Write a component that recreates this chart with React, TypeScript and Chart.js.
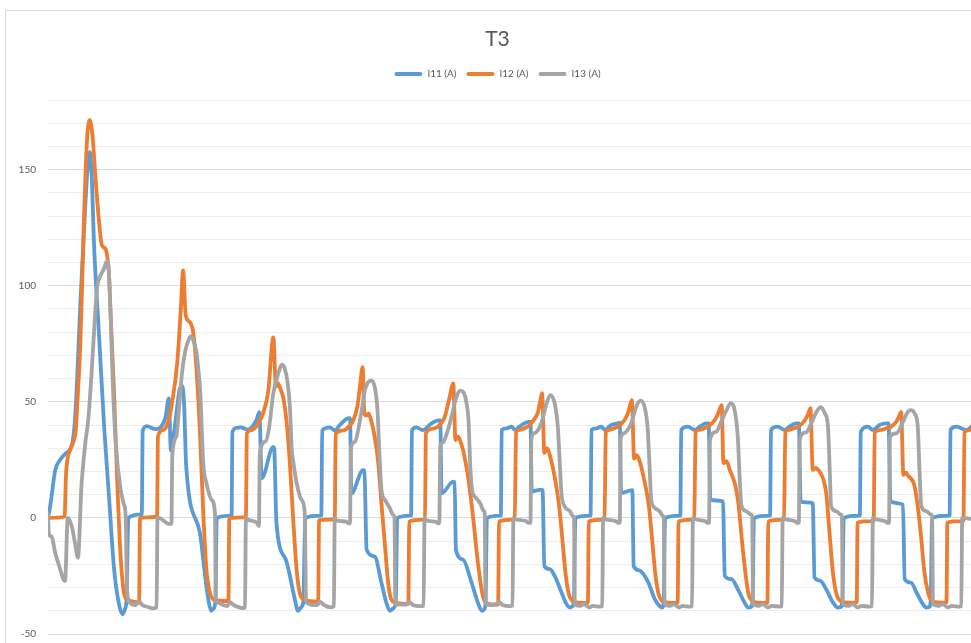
import React, { useEffect, useRef } from 'react';
import { Chart, registerables } from 'chart.js';

Chart.register(...registerables);

// Time (ms) and current (A) pairs
const seriesNames = ['I11 (A)', 'I12 (A)', 'I13 (A)'];
const seriesColors = ['#5B9BD5', '#ED7D31', '#A5A5A5'];
const yLabelTicks = [-50, 0, 50, 100, 150];

const i11: [number, number][] = [
  [0, 0], [0.4, 4], [0.8, 9.5], [1.6, 20.5], [2.7, 25], [3.8, 27.5], [4.9, 29.5], [5.5, 33], [6.0, 42], [6.5, 60], [7.2, 92], [8.0, 123], [8.8, 150], [9.3, 157.5], [9.8, 145], [10.2, 120.5], [11.4, 77.7], [12.5, 39.5], [13.6, 9], [14.7, -21.5], [15.8, -37], [16.6, -41.5], [17.2, -39], [17.5, -35], [17.9, 0], [20.7, 1.5],
  [20.9, 1.5], [21.1, 37.5], [22.0, 39.5], [24.0, 38.2], [25.1, 39], [26.2, 43.5], [26.9, 51.5], [27.4, 29], [28.3, 40], [29.3, 55], [29.8, 57], [30.3, 50], [30.8, 22], [33.8, -6], [35.2, -28], [35.9, -37], [36.4, -40], [36.9, -39], [37.3, -36], [37.6, 0], [40.7, 1],
  [40.9, 1], [41.1, 37], [42.0, 38.8], [43.0, 39], [44.5, 38], [46.4, 42], [47.1, 45.6], [47.6, 17], [50.2, 30.6], [50.4, 30], [50.9, -2], [53.0, -18], [55.0, -35], [55.7, -40], [56.6, -38], [56.9, -36], [57.3, 0], [60.7, 1],
  [60.9, 1], [61.1, 37.7], [62.8, 39], [63.9, 37.7], [65.0, 39.9], [66.5, 42.7], [67.3, 43], [67.6, 10.6], [70.2, 20.6], [70.5, 20.4], [71.0, -13.7], [72.8, -16.6], [74.3, -28], [75.4, -36.6], [76.2, -40], [76.9, -39], [77.5, -36], [77.8, 0], [80.7, 1],
  [80.9, 1], [81.1, 37.8], [82.1, 39], [83.5, 37.8], [85.3, 40.5], [87.0, 42], [87.4, 42], [87.7, 10.6], [90.3, 15.6], [90.6, 15.5], [90.9, -13.7], [92.5, -18], [94.4, -28], [95.8, -36.6], [96.7, -40], [97.2, -39.5], [97.5, -36], [97.8, 0], [100.7, 1],
  [100.9, 1], [101.1, 37.9], [102.2, 38.6], [103.3, 39.3], [104.0, 37.9], [105.5, 40], [107.0, 41.4], [107.5, 41.4], [107.8, 11.4], [109.6, 12.1], [110.2, 12.1], [110.6, -20.7], [111.8, -22.1], [112.9, -25], [114.4, -32], [115.5, -37], [116.3, -38.6], [116.9, -38], [117.2, -35], [117.5, 0], [120.7, 1],
  [120.9, 1], [121.1, 37.9], [122.2, 38.6], [123.3, 39.3], [124.0, 37.9], [125.5, 40], [127.0, 40.7], [127.4, 41], [127.7, 10.7], [130.2, 12], [130.5, -20.7], [131.6, -22.5], [133.7, -27.5], [135.2, -35], [136.3, -38], [136.9, -38.6], [137.2, -36], [137.5, 0], [140.7, 1],
  [140.9, 1], [141.1, 37.9], [142.6, 39.3], [144.1, 37.9], [145.2, 39.3], [146.7, 40.7], [147.2, 40.7], [147.6, 7.9], [150.4, 7.1], [150.8, -25], [152.3, -26.4], [153.7, -30.7], [155.2, -36.4], [156.0, -38.6], [156.7, -38.3], [157.0, -35], [157.3, 0], [160.7, 1],
  [160.9, 1], [161.1, 37.9], [162.6, 39.3], [164.1, 37.9], [165.2, 39.3], [166.7, 40.7], [167.3, 40.7], [167.7, 7], [170.4, 6.4], [170.8, -25.7], [172.0, -27], [173.4, -30.7], [174.9, -36.4], [176.0, -38.6], [176.7, -38.3], [177.0, -35], [177.3, 0], [180.7, 1],
  [180.9, 1], [181.1, 37], [182.7, 39.3], [183.8, 37.9], [185.3, 40], [186.8, 40.7], [187.3, 40.7], [187.7, 7.1], [190.5, 5.7], [190.9, -26.4], [192.3, -27.9], [193.5, -32], [194.9, -37], [195.7, -38.6], [196.4, -38.3], [196.7, -35], [197.0, 0], [200.7, 1],
  [200.9, 1], [201.1, 37.9], [202.4, 39.3], [203.5, 38.6], [204.7, 37.9], [205.8, 39.3], [207.0, 40.5],
];

const i12: [number, number][] = [
  [0, 0], [3.7, 0.5], [4.0, 18], [4.4, 26], [5.0, 29.5], [5.6, 32.5], [6.2, 38], [6.5, 48], [7.2, 75], [7.6, 100], [8.0, 128], [8.7, 163], [9.3, 171.3], [9.9, 165], [10.6, 146], [11.4, 127], [12.0, 117.5], [12.8, 116], [13.2, 112.5], [13.6, 105], [13.9, 90], [14.7, 55], [15.4, 17], [16.1, -14], [16.9, -32], [17.6, -35], [19.0, -36], [20.3, -36.5], [20.5, 0],
  [24.3, 0.5], [24.5, 35], [25.5, 37.8], [26.6, 40.3], [27.7, 50.3], [28.8, 67], [29.6, 90], [30.1, 106.6], [30.7, 87], [31.6, 84.4], [32.4, 79.4], [33.1, 63.6], [33.9, 35], [34.6, 2], [35.3, -22.4], [36.1, -32.4], [37.2, -35.3], [40.2, -35.8], [40.4, 0],
  [44.1, 0.3], [44.3, 36.4], [45.4, 37.8], [46.8, 40.6], [47.9, 44.9], [49.1, 54.9], [50.2, 77.8], [50.8, 56.5], [51.2, 58], [51.8, 55.5], [52.4, 52], [53.2, 40.6], [53.9, 23.4], [54.6, 0.6], [55.4, -22.4], [56.1, -32.4], [57.2, -35.3], [60.2, -36], [60.4, -1],
  [63.9, -0.5], [64.1, 36.3], [65.8, 37.7], [66.9, 39.1], [68.0, 42], [68.9, 47.7], [69.5, 56.3], [70.1, 64.9], [70.5, 44.9], [71.0, 44.1], [71.4, 45], [72.1, 41.3], [72.8, 34.9], [73.6, 23.4], [74.3, 6.3], [75.1, -12.3], [75.8, -28], [76.5, -35.1], [77.7, -36.6], [80.3, -37], [80.5, -1.5],
  [83.6, -0.7], [84.0, -0.5], [84.2, 36.4], [85.8, 38.5], [87.3, 40], [88.4, 43.5], [89.5, 52], [90.3, 57.9], [90.8, 33.5], [91.4, 35], [91.9, 33], [92.5, 29.1], [93.6, 17.7], [94.7, 0.6], [95.8, -19.4], [96.9, -33.7], [97.7, -36.6], [98.8, -37.3], [100.3, -37.3], [100.5, -1.5],
  [103.6, -0.7], [104.0, -0.5], [104.3, 37.1], [105.1, 37.9], [106.2, 38.6], [107.3, 40], [108.5, 42.9], [109.2, 45.7], [109.7, 50.5], [110.1, 53.7], [110.6, 28], [111.2, 30], [111.9, 26.5], [113.1, 15.5], [113.9, 5], [114.6, -9], [115.3, -23.6], [116.0, -32.5], [116.8, -35.7], [117.7, -36.4], [120.3, -36.6], [120.5, -1.5],
  [123.6, -0.7], [124.0, -0.5], [124.3, 37], [125.1, 37.9], [126.2, 38.6], [127.3, 39.8], [128.5, 42.3], [129.2, 45], [129.7, 48.5], [130.1, 50.7], [130.6, 25.5], [131.2, 27], [131.9, 24], [133.1, 14], [133.9, 5], [134.6, -9], [135.3, -23.6], [136.0, -32.5], [136.8, -35.7], [137.7, -36.4], [140.3, -36.6], [140.5, -1.5],
  [143.6, -0.7], [144.0, -0.5], [144.3, 37], [145.1, 37.9], [146.2, 38.6], [147.3, 39.6], [148.5, 42], [149.2, 44.5], [149.7, 47], [150.1, 48.6], [150.5, 23.6], [151.2, 24.5], [151.9, 20.7], [153.2, 13.6], [153.9, 5], [154.6, -9.3], [155.4, -23.6], [156.1, -32.9], [156.9, -35.7], [157.8, -36.4], [160.3, -36.6], [160.5, -1.5],
  [163.6, -0.7], [164.0, -0.5], [164.3, 37], [165.1, 37.9], [166.2, 38.6], [167.3, 39.5], [168.5, 41.7], [169.2, 44], [169.6, 46], [169.9, 47.3], [170.4, 20.7], [171.0, 21.5], [171.9, 20], [172.7, 17], [173.4, 10.7], [174.2, -7.9], [174.9, -23.6], [175.7, -32.9], [176.5, -35.7], [177.5, -36.4], [180.2, -36.5], [180.4, -2],
  [183.8, -1.4], [184.0, -0.7], [184.2, 37], [185.7, 37.9], [186.8, 38.6], [187.9, 39.3], [189.0, 41.4], [189.7, 44], [190.1, 45.7], [190.6, 18.6], [191.2, 19.5], [191.7, 18], [192.3, 17], [193.1, 13.6], [193.8, 5], [194.6, -9.3], [195.3, -23.6], [196.1, -32.1], [196.8, -35.5], [197.8, -36.3], [200.2, -36.5], [200.4, -2],
  [203.8, -1.4], [204.0, -0.7], [204.2, 37], [205.6, 37.9], [207.0, 38.6],
];

const i13: [number, number][] = [
  [0, 2], [0.2, -7], [0.8, -8], [1.6, -15], [2.7, -22], [3.4, -26.4], [3.8, -27.2], [4.4, 0], [5.3, -3.6], [6.0, -10.7], [6.7, -17.2], [7.0, -8], [7.4, 12], [7.7, 20], [8.3, 32], [9.0, 43], [9.7, 62], [10.5, 88], [11.0, 100], [11.6, 104], [12.4, 107], [13.1, 110.5], [13.5, 107], [14.0, 85], [14.4, 60], [15.1, 32], [16.2, 12], [16.9, 6], [17.3, 1], [17.6, -30], [18.0, -35.5], [18.5, -37], [19.5, -37.5], [20.3, -36], [21.0, -37.5], [22.5, -38.5], [23.3, -39], [24.2, -38.5], [24.4, 0],
  [24.7, 0], [26.3, -2], [26.9, -2.6], [27.5, -2.6], [27.7, 27], [28.6, 35], [29.3, 50], [29.9, 63], [30.6, 72], [31.3, 76.5], [31.8, 78.3], [32.3, 77], [33.1, 71], [33.6, 62], [33.9, 55], [34.6, 23.5], [35.3, 15], [36.5, 7.7], [37.2, 2], [37.4, -35], [37.8, -36.5], [39.0, -37.5], [40.0, -38], [40.5, -36.3], [41.4, -37.5], [43.4, -38.8], [43.9, -38.5], [44.1, 0],
  [44.3, -0.5], [46.5, -2], [47.0, -3.5], [47.2, 28], [48.5, 33], [49.2, 38], [50.2, 53.6], [51.3, 62.2], [52.1, 66], [52.8, 64], [53.4, 58], [53.9, 48], [54.3, 30], [54.7, 23.5], [55.4, 15], [56.5, 7.7], [57.2, 2.5], [57.5, -36], [57.8, -36.8], [59.0, -37.5], [60.0, -37.5], [60.6, -36.2], [61.5, -37.5], [63.0, -38.5], [63.7, -38], [63.9, 0],
  [64.1, -0.9], [66.5, -1.6], [66.9, -2.3], [67.3, -2.3], [67.5, 30.6], [68.4, 32.7], [69.1, 37.7], [69.9, 46.3], [70.6, 54.9], [71.3, 58.4], [72.1, 59.1], [72.8, 56.3], [73.4, 47], [73.8, 30], [74.3, 12], [75.1, 7.7], [76.2, 4.1], [76.9, 1.3], [77.2, 0.5], [77.4, -37], [78.5, -37.3], [79.8, -37.3], [80.5, -36.2], [81.3, -37.5], [83.0, -38], [83.7, -37.8], [83.9, 0],
  [84.1, -0.9], [86.4, -1.6], [86.9, -2.3], [87.2, -2.3], [87.4, 30.6], [88.0, 32.5], [88.8, 36], [89.9, 43.5], [91.0, 52], [91.9, 54.8], [92.6, 54], [93.2, 50], [93.7, 42], [94.1, 22], [94.5, 12], [95.2, 9], [96.3, 6.3], [97.1, 3], [97.3, 2.5], [97.5, -37], [98.5, -37.5], [99.8, -37.3], [100.5, -36.2], [101.3, -37.5], [103.0, -38], [103.5, -37.8], [103.7, 0],
  [103.9, -0.4], [106.5, -1.4], [107.0, -2.1], [107.5, -2.1], [107.7, 34], [108.4, 36.5], [109.2, 37.9], [109.9, 40.7], [111.1, 49.3], [111.9, 52.9], [112.9, 49.3], [113.6, 39.3], [114.0, 25], [114.4, 10.7], [115.1, 5], [116.3, 2.9], [117.0, 0.7], [117.2, 0.5], [117.4, -37.1], [118.4, -37.9], [119.5, -37.1], [120.6, -38.6], [121.4, -37.9], [123.0, -38.2], [123.5, -38], [123.7, 0],
  [123.9, -0.4], [126.5, -1.4], [127.0, -2.1], [127.4, -2.1], [127.6, 34.3], [128.4, 36.5], [129.2, 38], [129.9, 40.5], [131.1, 48], [132.0, 50.5], [132.9, 48], [133.6, 39], [134.0, 24], [134.4, 8], [135.1, 4.5], [136.3, 2.8], [137.0, 0.9], [137.2, 0.5], [137.4, -37.1], [138.4, -37.9], [139.5, -37.1], [140.6, -38.6], [141.4, -37.9], [143.0, -38.2], [143.5, -38], [143.7, 0],
  [143.9, -0.4], [146.5, -1.4], [146.9, -2.1], [147.3, -2.1], [147.5, 33.6], [148.9, 37.1], [150.0, 41.5], [151.2, 46.4], [152.1, 49.3], [153.0, 46.4], [153.7, 35], [154.1, 18], [154.5, 5.5], [155.6, 2.9], [156.7, 1.4], [156.9, 0.8], [157.1, -37.1], [158.2, -37.9], [159.3, -37.1], [160.4, -38.6], [161.3, -37.9], [163.0, -38.2], [163.5, -38], [163.7, 0],
  [163.9, -0.4], [166.5, -1.4], [166.9, -2.1], [167.3, -2.1], [167.5, 34], [168.9, 36.8], [170.0, 40.5], [171.2, 45.5], [172.2, 47.7], [173.1, 45], [173.8, 39.3], [174.2, 20], [174.5, 5], [175.6, 2.9], [176.7, 1.4], [176.9, 0.8], [177.1, -37.1], [178.2, -37.9], [179.3, -37.1], [180.4, -38.6], [181.3, -37.9], [183.0, -38.2], [183.6, -38], [183.8, 0],
  [184.0, -0.4], [186.6, -1.4], [187.0, -2.1], [187.4, -2.1], [187.6, 35], [189.0, 36.4], [190.5, 41.4], [191.6, 45.7], [192.3, 46.4], [193.1, 45], [193.8, 39.3], [194.2, 20], [194.6, 5], [195.7, 2.9], [196.8, 1.4], [197.0, 0.8], [197.2, -37.1], [198.3, -37.9], [199.4, -37.1], [200.5, -38.6], [201.4, -37.9], [203.0, -38.2], [203.5, -38], [203.7, 0], [205.5, -0.4], [207.0, -1],
];

const allSeries = [i11, i12, i13];

export default function App() {
  const canvasRef = useRef<HTMLCanvasElement | null>(null);

  useEffect(() => {
    if (!canvasRef.current) return;
    const legendSpacer = {
      id: 'legendSpacer',
      beforeInit(chart: any) {
        const legend = chart.legend;
        if (!legend) return;
        const origFit = legend.fit;
        legend.fit = function () {
          origFit.call(this);
          this.height += 11;
        };
      },
    };

    const chart = new Chart(canvasRef.current, {
      type: 'line',
      data: {
        datasets: allSeries.map((pts, i) => ({
          label: seriesNames[i],
          data: pts.map(([x, y]) => ({ x, y })),
          borderColor: seriesColors[i],
          backgroundColor: seriesColors[i],
          borderWidth: 3.8,
          pointRadius: 0,
          fill: false,
          cubicInterpolationMode: 'monotone' as const,
          borderCapStyle: 'round' as const,
          borderJoinStyle: 'round' as const,
          order: 2 - i,
        })),
      },
      options: {
        responsive: false,
        animation: false,
        events: [],
        layout: { padding: { left: 0, right: 0, top: 0, bottom: 26 } },
        plugins: {
          title: {
            display: true,
            text: 'T3',
            color: '#595959',
            font: { family: 'Lato', size: 21, weight: 'normal' },
            padding: { top: 16.4, bottom: 7.4 },
          },
          legend: {
            display: true,
            position: 'top',
            labels: {
              boxWidth: 28,
              boxHeight: 4,
              padding: 10,
              color: '#595959',
              font: { family: 'Lato', size: 10 },
              generateLabels: () =>
                seriesNames.map((name, i) => ({
                  text: name,
                  fillStyle: seriesColors[i],
                  strokeStyle: seriesColors[i],
                  fontColor: '#595959',
                  lineWidth: 0,
                  hidden: false,
                  datasetIndex: i,
                  borderRadius: 2,
                })),
            },
          },
          tooltip: { enabled: false },
        },
        scales: {
          x: { type: 'linear', min: 0, max: 209.9, display: false },
          y: {
            type: 'linear',
            min: -50,
            max: 180,
            afterFit: (scale: any) => {
              scale.width = 43;
            },
            ticks: {
              stepSize: 10,
              autoSkip: false,
              padding: 12,
              color: '#595959',
              font: { family: 'Lato', size: 10 },
              callback: (v: any) => (yLabelTicks.includes(Number(v)) ? String(v) : ''),
            },
            grid: {
              drawTicks: false,
              lineWidth: 1,
              color: (ctx: any) =>
                ctx.tick && yLabelTicks.includes(ctx.tick.value) ? '#d9d9d9' : '#ececec',
            },
            border: { display: false },
          },
        },
      },
      plugins: [legendSpacer],
    } as any);

    return () => chart.destroy();
  }, []);

  return (
    <div
      style={{
        position: 'fixed',
        left: 0,
        top: 0,
        width: 971,
        height: 643,
        overflow: 'hidden',
        background: '#ffffff',
      }}
    >
      <div
        style={{
          position: 'absolute',
          left: 5,
          top: 10,
          width: 990,
          height: 700,
          border: '1px solid #d9d9d9',
          boxSizing: 'border-box',
        }}
      />
      <canvas
        ref={canvasRef}
        width={985}
        height={650}
        style={{ position: 'absolute', left: 5, top: 10, width: 985, height: 650 }}
      />
    </div>
  );
}
